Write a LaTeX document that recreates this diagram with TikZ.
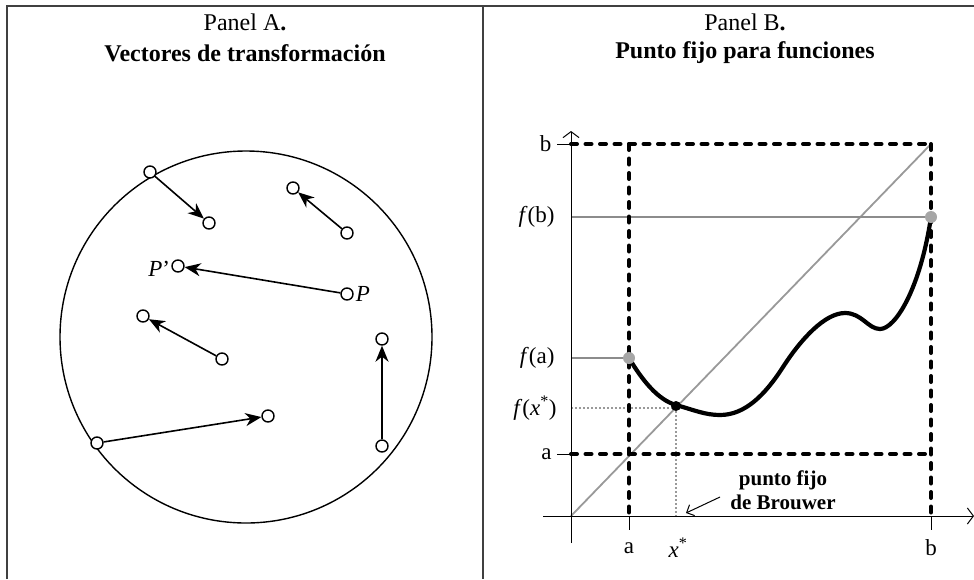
\documentclass[tikz,border=0pt]{standalone}
\usepackage{fontspec}
\setmainfont{Liberation Serif}
\usetikzlibrary{arrows.meta}
\begin{document}
\begin{tikzpicture}[x=1pt,y=-1pt,
  frame/.style={draw=black!75,line width=1.3pt},
  pt/.style={circle,draw,line width=1.4pt,fill=white,minimum size=12pt,inner sep=0pt},
  vec/.style={line width=1.6pt,-{Stealth[length=16pt,width=13pt,inset=5pt]}},
  axis/.style={line width=1pt,-{Straight Barb[length=6pt,width=16pt]}},
  bdash/.style={line width=4pt,line cap=round,dash pattern=on 6pt off 8.5pt},
  gline/.style={draw=black!45,line width=1.1pt},
  gdiag/.style={draw=black!40,line width=1.8pt},
  gdot/.style={draw=black!40,line width=1.4pt,dash pattern=on 2pt off 2pt},
  lab/.style={font=\fontsize{23}{26}\selectfont},
  title/.style={font=\fontsize{24}{27}\selectfont\bfseries}]
\useasboundingbox (0,0) rectangle (974,579);
% frame
\draw[frame] (7,579) -- (7,6) -- (974,6);
\draw[frame] (483,6) -- (483,579);
% titles
\node[lab,font=\fontsize{24}{27}\selectfont] (ta) at (245,22) {Panel A\textbf{.}};
\node[title] (tta) at (245,53) {Vectores de transformación};
\node[lab,font=\fontsize{24}{27}\selectfont] (tb) at (745,22) {Panel B\textbf{.}};
\node[title] (ttb) at (745,53) {Punto fijo para funciones};
% Panel A
\node[circle,draw,line width=1.4pt,minimum size=372pt,inner sep=0pt] (disk) at (246,337) {};
\node[pt] (a1) at (150,172) {};
\node[pt] (a2) at (209,223) {};
\node[pt] (b1) at (347,233) {};
\node[pt] (b2) at (293,188) {};
\node[pt] (p) at (347,294) {};
\node[pt] (pp) at (178,266) {};
\node[pt] (c1) at (222,359) {};
\node[pt] (c2) at (143,316) {};
\node[pt] (d1) at (97,443) {};
\node[pt] (d2) at (268,416) {};
\node[pt] (e1) at (382,446) {};
\node[pt] (e2) at (382,339) {};
\draw[vec] (a1) -- (a2);
\draw[vec] (b1) -- (b2);
\draw[vec] (p) -- (pp);
\draw[vec] (c1) -- (c2);
\draw[vec] (d1) -- (d2);
\draw[vec] (e1) -- (e2);
\node[lab,anchor=east,inner sep=1pt] (lpp) at ([yshift=-3pt]pp.west) {\textit{P}'};
\node[lab,anchor=west,inner sep=2pt] (lp) at (p.east) {\textit{P}};
% Panel B
\coordinate (o) at (571,516);
\coordinate (xs) at (543,516);
\coordinate (xe) at (974,516);
\coordinate (ys) at (571,543);
\coordinate (ye) at (571,131);
\draw[gdiag] (o) -- (931,144);
\draw[gline] (571,217) -- (931,217);
\draw[gline] (571,358) -- (629,358);
\draw[gdot] (571,408) -- (676,408) -- (676,516);
\draw[axis] (xs) -- (xe);
\draw[axis] (ys) -- (ye);
% ticks
\draw[line width=1pt] (557,144) -- (571,144);
\draw[line width=1pt] (557,454) -- (571,454);
\draw[line width=1pt] (629,516) -- (629,530);
\draw[line width=1pt] (931,516) -- (931,530);
% dashed box
\draw[bdash] (571,144) -- (931,144);
\draw[bdash] (571,454) -- (931,454);
\draw[bdash] (629,144) -- (629,516);
\draw[bdash] (931,144) -- (931,516);
% curve
\draw[line width=4.2pt] (629,358) .. controls (642,380) and (658,400) .. (676,405)
  .. controls (694,410) and (705,415) .. (720,415)
  .. controls (745,415) and (765,395) .. (783,367)
  .. controls (801,339) and (825,313) .. (845,313)
  .. controls (862,313) and (868,329) .. (880,329)
  .. controls (895,329) and (920,290) .. (931,217);
\node[circle,fill=black!35,minimum size=12pt,inner sep=0pt] (fa) at (629,358) {};
\node[circle,fill=black!35,minimum size=12pt,inner sep=0pt] (fb) at (931,217) {};
\node[circle,fill=black,minimum size=10pt,inner sep=0pt] (fx) at (676,406) {};
% labels
\node[lab,anchor=east] (lb) at (555,144) {b};
\node[lab,anchor=east] (lfb) at (558,217) {\textit{f}(b)};
\node[lab,anchor=east] (lfa) at (558,358) {\textit{f}(a)};
\node[lab,anchor=east] (lfx) at (560,408) {\textit{f}(\textit{x}\textsuperscript{*})};
\node[lab,anchor=east] (la) at (555,454) {a};
\node[lab] (xa) at (629,548) {a};
\node[lab] (xx) at (678,548) {\textit{x}\textsuperscript{*}};
\node[lab] (xb) at (931,548) {b};
\node[font=\fontsize{21}{24}\selectfont\bfseries,align=center] (bro) at (783,490) {punto fijo\\de Brouwer};
\coordinate (bs) at (720,497);
\draw[line width=1pt,-{Straight Barb[length=6pt,width=12pt]}] (bs) -- (686,513);
\end{tikzpicture}
\end{document}
